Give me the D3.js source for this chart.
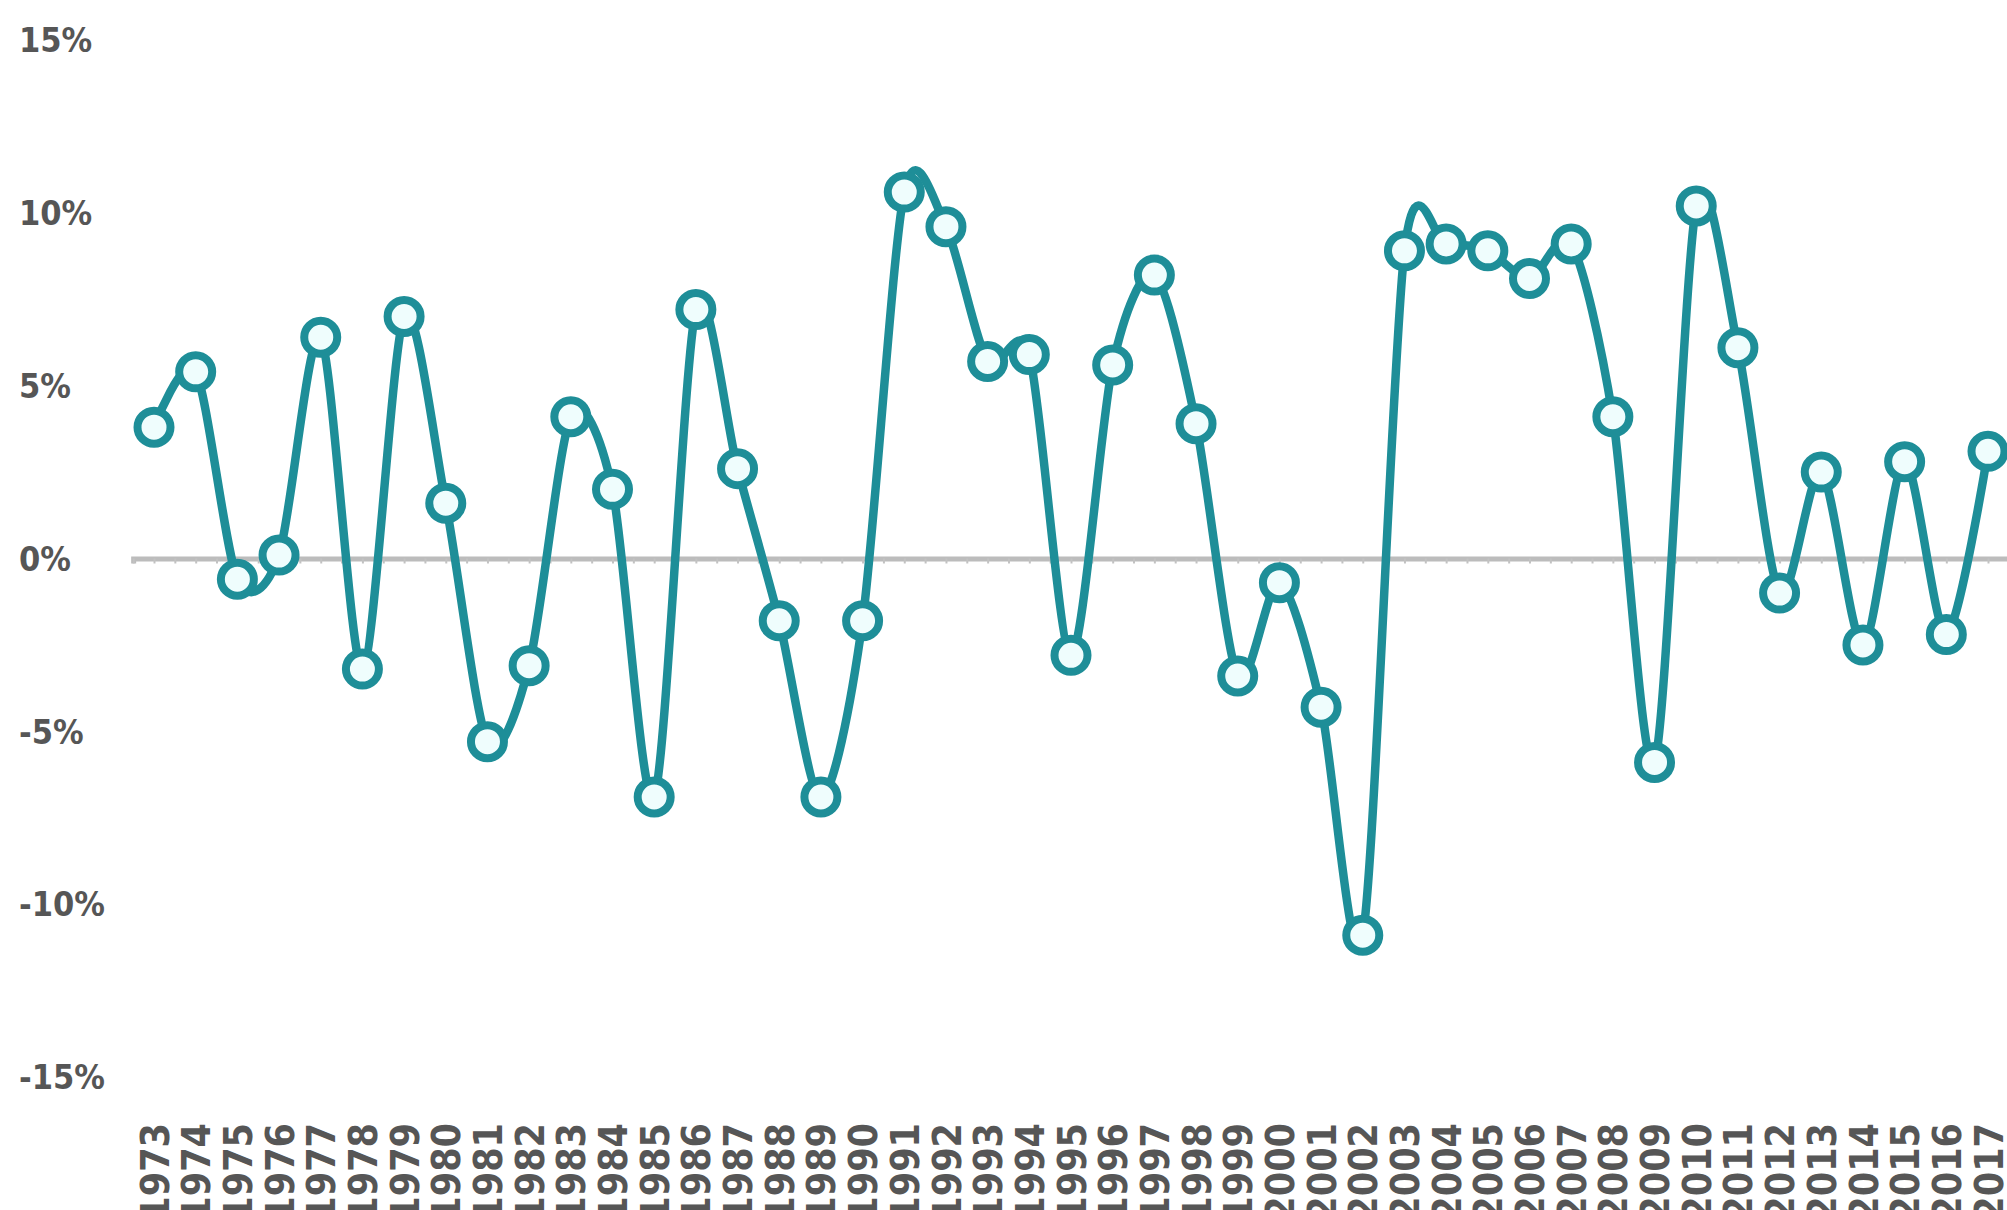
<!DOCTYPE html>
<html>
<head>
<meta charset="utf-8">
<script src="https://cdn.jsdelivr.net/npm/d3@7"></script>
<style>
  html, body { margin: 0; padding: 0; background: #fff; overflow: hidden; }
</style>
</head>
<body>
<div id="chart"></div>
<script>
const years = d3.range(1973, 2018).map(String);
const growth = [
    3.8, 5.4, -0.6, 0.1, 6.4, -3.2, 7.0, 1.6, -5.3, -3.1,
    4.1, 2.0, -6.9, 7.2, 2.6, -1.8, -6.9, -1.8, 10.6, 9.6,
    5.7, 5.9, -2.8, 5.6, 8.2, 3.9, -3.4, -0.7, -4.3, -10.9,
    8.9, 9.1, 8.9, 8.1, 9.1, 4.1, -5.9, 10.2, 6.1, -1.0,
    2.5, -2.5, 2.8, -2.2, 3.1
];
const yTicks = [15, 10, 5, 0, -5, -10, -15];

const width = 2007;
const height = 1210;
const teal = '#1e8e98';
const font = '"DejaVu Sans Condensed", "DejaVu Sans", sans-serif';

const svg = d3.select('#chart')
    .append('svg')
    .attr('width', width)
    .attr('height', height);

const x = d3.scalePoint()
    .domain(years)
    .range([154, 1988]);

const y = d3.scaleLinear()
    .domain([-15, 15])
    .range([1077, 40]);

// y labels, left aligned
svg.append('g')
    .attr('class', 'y-labels')
    .selectAll('text')
    .data(yTicks)
    .enter()
    .append('text')
    .attr('x', 19)
    .attr('y', d => y(d))
    .attr('dy', '0.36em')
    .style('font-family', font)
    .style('font-weight', 'bold')
    .style('font-size', '34px')
    .style('fill', '#565656')
    .text(d => d + '%');

// zero line with the small ticks
const half = d3.scaleLinear().domain([1972.5, 2018]).range([x('1973') - x.step() / 2, x('2017') + x.step()]);
const zeroAxis = d3.axisBottom(half)
    .tickValues(d3.range(1972.5, 2018.01, 0.5))
    .tickSize(5)
    .tickFormat('');
const zero = svg.append('g')
    .attr('class', 'zero')
    .attr('transform', 'translate(0,' + y(0) + ')')
    .call(zeroAxis);
zero.select('.domain')
    .attr('stroke', '#bcbcbc')
    .attr('stroke-width', 5);
zero.selectAll('.tick line')
    .attr('stroke', '#c2c2c2')
    .attr('stroke-width', 2);

// year labels at the bottom
const xAxis = d3.axisBottom(x).tickSize(0).tickPadding(0);
const bottom = svg.append('g')
    .attr('class', 'x-labels')
    .attr('transform', 'translate(0,1123)')
    .call(xAxis);
bottom.select('.domain').remove();
bottom.selectAll('text')
    .attr('transform', 'rotate(-90)')
    .attr('x', 0)
    .attr('y', 0)
    .attr('dy', '0.36em')
    .style('text-anchor', 'end')
    .style('font-family', font)
    .style('font-weight', 'bold')
    .style('font-size', '39px')
    .style('fill', '#565656');

const points = years.map((yr, i) => ({ year: yr, value: growth[i] }));

const line = d3.line()
    .x(d => x(d.year))
    .y(d => y(d.value))
    .curve(d3.curveCardinal.tension(0.15));

svg.append('path')
    .datum(points)
    .attr('fill', 'none')
    .attr('stroke', teal)
    .attr('stroke-width', 8.5)
    .attr('stroke-linejoin', 'round')
    .attr('d', line);

svg.append('g')
    .attr('class', 'dots')
    .selectAll('circle')
    .data(points)
    .enter()
    .append('circle')
    .attr('cx', d => x(d.year))
    .attr('cy', d => y(d.value))
    .attr('r', 16.5)
    .attr('fill', '#effdfd')
    .attr('stroke', teal)
    .attr('stroke-width', 8);
</script>
</body>
</html>
